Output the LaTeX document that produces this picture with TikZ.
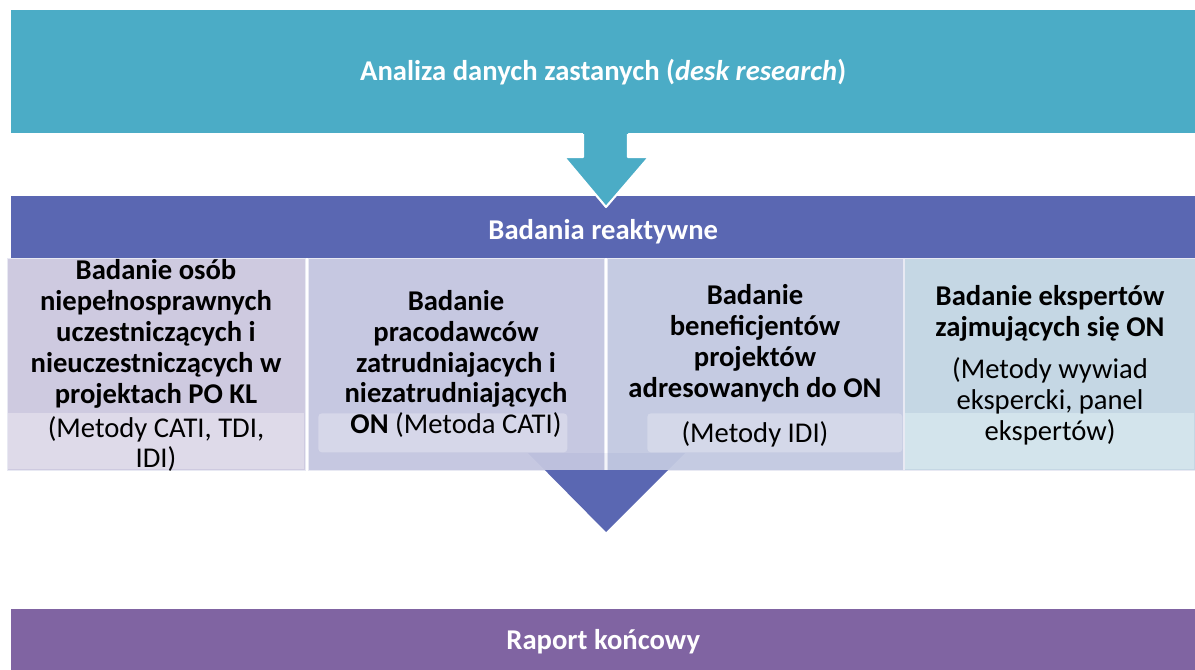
\documentclass[tikz,border=0pt]{standalone}
\usepackage{fontspec}
\setmainfont{Carlito}
\usepackage{xcolor}
\usetikzlibrary{positioning,calc}

\definecolor{deskc}{RGB}{75,172,198}
\definecolor{reaktc}{RGB}{90,103,178}
\definecolor{raportc}{RGB}{128,100,162}
\definecolor{boxAtop}{RGB}{206,202,224}
\definecolor{boxAlow}{RGB}{222,218,233}
\definecolor{boxBtop}{RGB}{198,200,225}
\definecolor{boxBlow}{RGB}{214,215,233}
\definecolor{boxCtop}{RGB}{197,203,226}
\definecolor{boxClow}{RGB}{212,216,233}
\definecolor{boxDtop}{RGB}{197,215,228}
\definecolor{boxDlow}{RGB}{211,228,236}

\begin{document}
\begin{tikzpicture}[
    x=0.02cm, y=-0.02cm,
    band/.style={rectangle, anchor=north west, inner sep=0pt, text=white, font=\fontsize{16.3}{17.6}\selectfont\bfseries},
    study/.style={rectangle, anchor=north west, inner sep=0pt, minimum height=4.24cm, draw=white!60!boxBtop, line width=0.6pt},
    tab/.style={rectangle, anchor=north west, inner sep=0pt, rounded corners=2pt},
    label/.style={align=center, inner sep=0pt, text=black, font=\fontsize{16.3}{17.6}\selectfont}
]
\useasboundingbox (0,0) rectangle (1195,669);

% Bands
\node[band, fill=deskc, minimum width=23.68cm, minimum height=2.46cm] (desk) at (11,10) {};
\node at (desk.center) [band, anchor=center] {Analiza danych zastanych (\textit{desk research})};
\node[band, fill=reaktc, minimum width=23.68cm, minimum height=1.24cm] (reakt) at (11,196) {};
\node at ($(reakt.center)+(0,4)$) [band, anchor=center] {Badania reaktywne};
\node[band, fill=raportc, minimum width=23.68cm, minimum height=1.3cm] (raport) at (11,609) {};
\node at (raport.center) [band, anchor=center] {Raport końcowy};

% Arrow between bands
\fill[deskc] (583,133) -- (583,157) -- (564,157) -- (606,207) -- (649,157) -- (628,157) -- (628,133) -- cycle;
\draw[white, line width=1.2pt, line join=round] (583,134) -- (583,157) -- (564,157) -- (606,207) -- (649,157) -- (628,157) -- (628,134);

% Study boxes
\node[study, fill=boxAtop, minimum width=5.96cm] (box1) at (7,258) {};
\fill[boxAlow] (8,413) rectangle (304,469);
\node[study, fill=boxBtop, minimum width=5.92cm] (box2) at (308,258) {};
\node[tab, fill=boxBlow, minimum width=4.98cm, minimum height=0.78cm] (tab2) at (318,413) {};
\node[study, fill=boxCtop, minimum width=5.92cm] (box3) at (607,258) {};
\node[tab, fill=boxClow, minimum width=5.1cm, minimum height=0.78cm] (tab3) at (647,413) {};
\node[study, fill=boxDtop, minimum width=5.82cm] (box4) at (904,258) {};
\fill[boxDlow] (905,413) rectangle (1194,469);

% Arrow below boxes
\begin{scope}
\clip (0,453) rectangle (1195,470);
\fill[reaktc, fill opacity=0.08] (528,453) -- (606,532) -- (685,453) -- cycle;
\end{scope}
\begin{scope}
\clip (0,470) rectangle (1195,600);
\fill[reaktc] (528,453) -- (606,532) -- (685,453) -- cycle;
\end{scope}

% Labels
\node[label] (osoby) at (156,334) {\textbf{Badanie osób}\\\textbf{niepełnosprawnych}\\\textbf{uczestniczących i}\\\textbf{nieuczestniczących w}\\\textbf{projektach PO KL}};
\node[label] (osobyM) at (156,444) {(Metody CATI, TDI,\\IDI)};
\node[label] (pracod) at (456,364) {\textbf{Badanie}\\\textbf{pracodawców}\\\textbf{zatrudniajacych i}\\\textbf{niezatrudniających}\\\textbf{ON} (Metoda CATI)};
\node[label] (benef) at (755,343) {\textbf{Badanie}\\\textbf{beneficjentów}\\\textbf{projektów}\\\textbf{adresowanych do ON}};
\node[label] (benefM) at (755,434) {(Metody IDI)};
\node[label] (eksp) at (1050,313) {\textbf{Badanie ekspertów}\\\textbf{zajmujących się ON}};
\node[label] (ekspM) at (1050,401) {(Metody wywiad\\ekspercki, panel\\ekspertów)};

\end{tikzpicture}
\end{document}
